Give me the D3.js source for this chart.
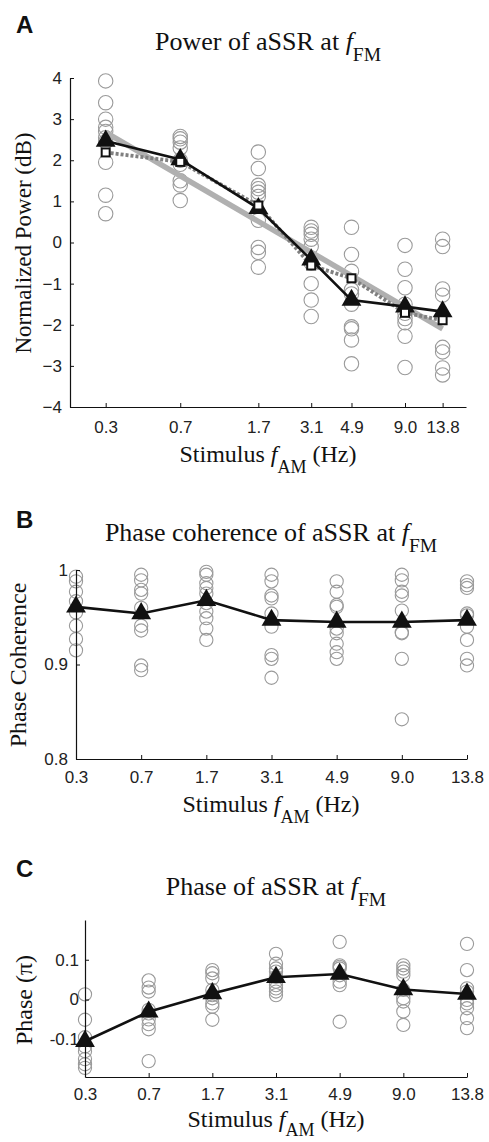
<!DOCTYPE html>
<html>
<head>
<meta charset="utf-8">
<script src="https://cdn.jsdelivr.net/npm/d3@7"></script>
<style>
  body { margin: 0; background: #fff; }
  .tick text { font-family: "Liberation Sans", Arial, sans-serif; font-size: 17px; fill: #222; }
  .serif { font-family: "Liberation Serif", "Times New Roman", serif; fill: #111; }
  .letter { font-family: "Liberation Sans", Arial, sans-serif; font-weight: bold; font-size: 24px; fill: #111; }
</style>
</head>
<body>
<svg id="fig"></svg>
<script>
/* Data */
const freqs = [0.3, 0.7, 1.7, 3.1, 4.9, 9.0, 13.8];
const freqLabels = ["0.3", "0.7", "1.7", "3.1", "4.9", "9.0", "13.8"];

/* A: normalized power (dB), one list of subjects per frequency */
const powerSubjects = [
    [3.93, 3.4, 3.0, 2.8, 2.7, 2.55, 2.45, 1.95, 1.15, 0.7],
    [2.58, 2.52, 2.44, 2.3, 2.0, 1.9, 1.5, 1.4, 1.02],
    [2.2, 1.8, 1.39, 1.31, 1.22, 1.12, 0.54, -0.12, -0.24, -0.6],
    [0.37, 0.28, 0.2, 0.08, -0.1, -0.5, -1.0, -1.4, -1.8],
    [0.37, -0.29, -0.7, -1.15, -1.25, -1.5, -2.05, -2.1, -2.37, -2.95],
    [-0.07, -0.65, -1.1, -1.5, -1.72, -1.85, -1.95, -2.28, -3.04],
    [0.08, -0.1, -1.13, -1.28, -2.55, -2.66, -3.05, -3.22]
];
const powerMean = [2.47, 2.02, 0.83, -0.42, -1.4, -1.56, -1.68];
const powerSquare = [2.19, 1.96, 0.9, -0.56, -0.87, -1.71, -1.89];
const powerFitFreqs = [0.3, 13.8];
const powerFit = [2.68, -2.1];
const powerTicks = [-4, -3, -2, -1, 0, 1, 2, 3, 4];

/* B: phase coherence */
const cohSubjects = [
    [0.993, 0.988, 0.977, 0.967, 0.955, 0.941, 0.927, 0.915],
    [0.995, 0.989, 0.979, 0.975, 0.96, 0.941, 0.936, 0.899, 0.894],
    [0.998, 0.995, 0.986, 0.981, 0.975, 0.965, 0.956, 0.949, 0.938, 0.926],
    [0.995, 0.988, 0.973, 0.97, 0.954, 0.94, 0.91, 0.906, 0.886],
    [0.988, 0.977, 0.963, 0.961, 0.938, 0.933, 0.922, 0.913, 0.906],
    [0.995, 0.989, 0.977, 0.973, 0.957, 0.934, 0.933, 0.906, 0.842],
    [0.988, 0.984, 0.981, 0.954, 0.952, 0.94, 0.926, 0.906, 0.899]
];
const cohMean = [0.961, 0.954, 0.968, 0.947, 0.945, 0.945, 0.947];
const cohTicks = [0.8, 0.9, 1];
const cohTickLabels = ["0.8", "0.9", "1"];

/* C: phase (pi) */
const phaseSubjects = [
    [0.013, -0.051, -0.095, -0.118, -0.13, -0.15, -0.163, -0.172],
    [0.048, 0.03, 0.02, -0.026, -0.035, -0.05, -0.062, -0.075, -0.155],
    [0.074, 0.066, 0.053, 0.024, 0.011, 0.003, -0.01, -0.018, -0.051],
    [0.115, 0.09, 0.078, 0.07, 0.057, 0.045, 0.036, 0.028, 0.02, 0.011],
    [0.145, 0.086, 0.082, 0.078, 0.061, 0.045, 0.036, -0.056],
    [0.086, 0.078, 0.07, 0.061, 0.024, 0.003, -0.005, -0.03, -0.064],
    [0.14, 0.074, 0.028, 0.02, -0.001, -0.01, -0.022, -0.047, -0.072]
];
const phaseMean = [-0.105, -0.031, 0.015, 0.056, 0.064, 0.025, 0.014];
const phaseTicks = [-0.1, 0, 0.1];
const phaseTickLabels = ["-0.1", "0", "0.1"];

/* Setup */
const svg = d3.select("#fig").attr("width", 489).attr("height", 1142);
const circleColor = "#9a9a9a";
const triangle = d3.symbol(d3.symbolTriangle).size(170);

/* text with an italic f and a subscript, e.g. "Power of aSSR at f_FM" */
function subText(x, y, before, sub, after, size, shift) {
    shift = shift || 11;
    const t = svg.append("text").attr("class", "serif")
        .attr("x", x).attr("y", y)
        .attr("text-anchor", "middle")
        .style("font-size", size + "px");
    t.append("tspan").text(before);
    t.append("tspan").style("font-style", "italic").text("f");
    t.append("tspan").attr("dy", shift).style("font-size", (size * 0.75) + "px").text(sub);
    if (after) t.append("tspan").attr("dy", -shift).text(after);
    return t;
}

function yLabel(x, y, label, size) {
    svg.append("text").attr("class", "serif")
        .attr("transform", `translate(${x},${y}) rotate(-90)`)
        .attr("text-anchor", "middle")
        .style("font-size", size + "px")
        .text(label);
}

function styleAxis(g) {
    g.select(".domain").attr("stroke", "#111").attr("stroke-width", 1.2);
    g.selectAll(".tick line").attr("stroke", "#111");
}

function subjectsToPoints(subjects, keys) {
    return subjects.flatMap((vals, i) => vals.map(v => ({ k: keys[i], v: v })));
}

/* ---------- Panel A ---------- */
const xA = d3.scaleLog().domain([0.2, 18]).range([70, 466]);
const yA = d3.scaleLinear().domain([-4, 4]).range([407, 78]);

svg.append("text").attr("class", "letter").attr("x", 16).attr("y", 33).text("A");
subText(268, 50, "Power of aSSR at ", "FM", null, 26);

svg.append("g").selectAll("circle")
    .data(subjectsToPoints(powerSubjects, freqs))
    .join("circle")
      .attr("cx", d => xA(d.k))
      .attr("cy", d => yA(d.v))
      .attr("r", 7.2)
      .attr("fill", "none")
      .attr("stroke", circleColor)
      .attr("stroke-width", 1.1);

/* regression line */
svg.append("path")
    .datum(powerFitFreqs.map((f, i) => ({ f: f, v: powerFit[i] })))
    .attr("fill", "none")
    .attr("stroke", "#b0b0b0")
    .attr("stroke-width", 5.5)
    .attr("d", d3.line().x(d => xA(d.f)).y(d => yA(d.v)));

svg.append("path")
    .datum(freqs.map((f, i) => ({ f: f, v: powerSquare[i] })))
    .attr("fill", "none")
    .attr("stroke", "#808080")
    .attr("stroke-width", 3.8)
    .attr("stroke-dasharray", "3,2")
    .attr("d", d3.line().x(d => xA(d.f)).y(d => yA(d.v)));

svg.append("path")
    .datum(freqs.map((f, i) => ({ f: f, v: powerMean[i] })))
    .attr("fill", "none")
    .attr("stroke", "#111")
    .attr("stroke-width", 2.6)
    .attr("d", d3.line().x(d => xA(d.f)).y(d => yA(d.v)));

svg.append("g").selectAll("path")
    .data(freqs.map((f, i) => ({ f: f, v: powerMean[i] })))
    .join("path")
      .attr("d", triangle)
      .attr("transform", d => `translate(${xA(d.f)},${yA(d.v)})`)
      .attr("fill", "#111");

svg.append("g").selectAll("rect")
    .data(freqs.map((f, i) => ({ f: f, v: powerSquare[i] })))
    .join("rect")
      .attr("x", d => xA(d.f) - 4)
      .attr("y", d => yA(d.v) - 4)
      .attr("width", 8).attr("height", 8)
      .attr("fill", "#fff")
      .attr("stroke", "#111")
      .attr("stroke-width", 2);

svg.append("g")
    .attr("transform", "translate(0,407)")
    .call(d3.axisBottom(xA).tickValues(freqs).tickFormat((d, i) => freqLabels[i])
        .tickSizeInner(-4).tickSizeOuter(0).tickPadding(14))
    .call(styleAxis);

svg.append("g")
    .attr("transform", "translate(70,0)")
    .call(d3.axisLeft(yA).tickValues(powerTicks).tickFormat(d3.format("d"))
        .tickSizeInner(-4).tickSizeOuter(0).tickPadding(8))
    .call(styleAxis);

yLabel(31, 243, "Normalized Power (dB)", 23);
subText(268, 462, "Stimulus ", "AM", " (Hz)", 24);

/* ---------- Panel B ---------- */
const xB = d3.scalePoint().domain(freqLabels).range([76, 467]);
const yB = d3.scaleLinear().domain([0.8, 1]).range([759, 570]);

svg.append("text").attr("class", "letter").attr("x", 16).attr("y", 528).text("B");
subText(271, 541, "Phase coherence of aSSR at ", "FM", null, 26);

svg.append("g").selectAll("circle")
    .data(subjectsToPoints(cohSubjects, freqLabels))
    .join("circle")
      .attr("cx", d => xB(d.k))
      .attr("cy", d => yB(d.v))
      .attr("r", 6.6)
      .attr("fill", "none")
      .attr("stroke", circleColor)
      .attr("stroke-width", 1.1);

svg.append("path")
    .datum(freqLabels.map((f, i) => ({ f: f, v: cohMean[i] })))
    .attr("fill", "none")
    .attr("stroke", "#111")
    .attr("stroke-width", 2.6)
    .attr("d", d3.line().x(d => xB(d.f)).y(d => yB(d.v)));

svg.append("g")
    .attr("transform", "translate(0,759)")
    .call(d3.axisBottom(xB).tickSizeInner(-4).tickSizeOuter(0).tickPadding(12))
    .call(styleAxis);

svg.append("g")
    .attr("transform", "translate(76,0)")
    .call(d3.axisLeft(yB).tickValues(cohTicks).tickFormat((d, i) => cohTickLabels[i])
        .tickSizeInner(-4).tickSizeOuter(0).tickPadding(8))
    .call(styleAxis);

svg.append("g").selectAll("path")
    .data(freqLabels.map((f, i) => ({ f: f, v: cohMean[i] })))
    .join("path")
      .attr("d", triangle)
      .attr("transform", d => `translate(${xB(d.f)},${yB(d.v)})`)
      .attr("fill", "#111");

yLabel(26, 665, "Phase Coherence", 24);
subText(271, 812, "Stimulus ", "AM", " (Hz)", 24);

/* ---------- Panel C ---------- */
const xC = d3.scalePoint().domain(freqLabels).range([85, 467]);
const yC = d3.scaleLinear().domain([-0.195, 0.2]).range([1077, 920]);

svg.append("text").attr("class", "letter").attr("x", 16).attr("y", 877).text("C");
subText(276, 895, "Phase of aSSR at ", "FM", null, 26);

svg.append("g").selectAll("circle")
    .data(subjectsToPoints(phaseSubjects, freqLabels))
    .join("circle")
      .attr("cx", d => xC(d.k))
      .attr("cy", d => yC(d.v))
      .attr("r", 6.6)
      .attr("fill", "none")
      .attr("stroke", circleColor)
      .attr("stroke-width", 1.1);

svg.append("path")
    .datum(freqLabels.map((f, i) => ({ f: f, v: phaseMean[i] })))
    .attr("fill", "none")
    .attr("stroke", "#111")
    .attr("stroke-width", 2.6)
    .attr("d", d3.line().x(d => xC(d.f)).y(d => yC(d.v)));

svg.append("g")
    .attr("transform", "translate(0,1077)")
    .call(d3.axisBottom(xC).tickSizeInner(-4).tickSizeOuter(0).tickPadding(11))
    .call(styleAxis);

svg.append("g")
    .attr("transform", "translate(85,0)")
    .call(d3.axisLeft(yC).tickValues(phaseTicks).tickFormat((d, i) => phaseTickLabels[i])
        .tickSizeInner(-4).tickSizeOuter(0).tickPadding(6))
    .call(styleAxis);

svg.append("g").selectAll("path")
    .data(freqLabels.map((f, i) => ({ f: f, v: phaseMean[i] })))
    .join("path")
      .attr("d", triangle)
      .attr("transform", d => `translate(${xC(d.f)},${yC(d.v)})`)
      .attr("fill", "#111");

yLabel(32, 1000, "Phase (\u03C0)", 24);
subText(276, 1127, "Stimulus ", "AM", " (Hz)", 24, 9);
</script>
</body>
</html>
